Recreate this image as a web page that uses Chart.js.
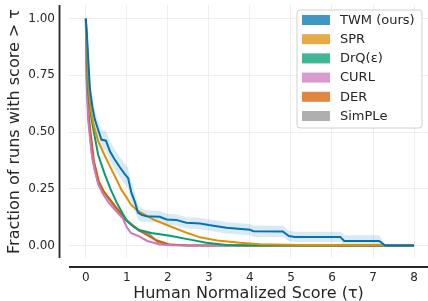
<!DOCTYPE html>
<html>
<head>
<meta charset="utf-8">
<script src="https://cdn.jsdelivr.net/npm/chart.js@4.4.1/dist/chart.umd.min.js"></script>
<style>
  html, body { margin: 0; padding: 0; background: #fff; }
  #wrap { width: 428px; height: 301px; }
</style>
</head>
<body>
<div id="wrap"><canvas id="chart" width="428" height="301"></canvas></div>
<script>
// tick labels
var xTicks = [0, 1, 2, 3, 4, 5, 6, 7, 8];
var yTicks = [0, 0.25, 0.5, 0.75, 1.0];

// TWM (ours)
var twmTau  = [0, 0.03, 0.06, 0.1, 0.16, 0.22, 0.3, 0.38, 0.49, 0.59, 0.7, 0.83, 0.95, 1.03, 1.11, 1.2, 1.27, 1.36, 1.48, 1.8, 1.97, 2.2, 2.45, 2.78, 3.0, 3.19, 3.43, 4.0, 4.08, 4.8, 4.95, 5.1, 6.2, 6.3, 7.15, 7.3, 8.0];
var twmFrac = [1.0, 0.92, 0.82, 0.69, 0.61, 0.555, 0.51, 0.467, 0.462, 0.414, 0.38, 0.345, 0.315, 0.298, 0.233, 0.19, 0.145, 0.135, 0.129, 0.127, 0.115, 0.113, 0.1, 0.097, 0.09, 0.085, 0.078, 0.07, 0.063, 0.062, 0.042, 0.038, 0.038, 0.02, 0.02, 0.0, 0.0];
var twmHigh = [1.0, 0.95, 0.86, 0.73, 0.65, 0.6, 0.55, 0.51, 0.505, 0.46, 0.425, 0.39, 0.36, 0.34, 0.28, 0.23, 0.18, 0.165, 0.155, 0.152, 0.14, 0.138, 0.125, 0.122, 0.115, 0.11, 0.103, 0.095, 0.088, 0.087, 0.065, 0.061, 0.061, 0.045, 0.045, 0.0, 0.0];
var twmLow  = [1.0, 0.89, 0.78, 0.65, 0.57, 0.51, 0.47, 0.425, 0.42, 0.37, 0.335, 0.3, 0.27, 0.255, 0.19, 0.15, 0.113, 0.105, 0.103, 0.102, 0.09, 0.088, 0.075, 0.072, 0.065, 0.06, 0.053, 0.045, 0.038, 0.037, 0.02, 0.016, 0.016, 0.0, 0.0, 0.0, 0.0];

// SPR
var sprTau  = [0, 0.03, 0.07, 0.12, 0.18, 0.3, 0.45, 0.56, 0.75, 0.87, 1.0, 1.1, 1.25, 1.4, 1.64, 2.05, 2.46, 2.78, 3.2, 3.76, 4.24, 5.2, 7.2, 7.3, 8.0];
var sprFrac = [1.0, 0.88, 0.69, 0.6, 0.54, 0.46, 0.4, 0.36, 0.29, 0.245, 0.21, 0.18, 0.155, 0.14, 0.115, 0.085, 0.056, 0.036, 0.022, 0.012, 0.006, 0.002, 0.002, 0.0, 0.0];

// DrQ(eps)
var drqTau  = [0, 0.02, 0.05, 0.14, 0.3, 0.45, 0.6, 0.75, 0.9, 1.0, 1.15, 1.3, 1.6, 2.05, 2.54, 2.94, 3.43, 4.0, 8.0];
var drqFrac = [1.0, 0.9, 0.69, 0.555, 0.4, 0.32, 0.25, 0.19, 0.14, 0.11, 0.085, 0.068, 0.055, 0.043, 0.026, 0.012, 0.002, 0.0, 0.0];

// CURL
var curlTau  = [0, 0.024, 0.056, 0.14, 0.22, 0.3, 0.41, 0.55, 0.75, 0.9, 1.0, 1.1, 1.3, 1.5, 1.8, 2.1, 2.5, 8.0];
var curlFrac = [0.98, 0.69, 0.555, 0.41, 0.33, 0.27, 0.23, 0.19, 0.15, 0.12, 0.08, 0.055, 0.04, 0.02, 0.005, 0.001, 0.0, 0.0];

// DER
var derTau  = [0, 0.03, 0.08, 0.2, 0.32, 0.45, 0.73, 0.97, 1.3, 1.72, 2.05, 2.5, 8.0];
var derFrac = [1.0, 0.69, 0.555, 0.37, 0.28, 0.235, 0.17, 0.115, 0.066, 0.023, 0.004, 0.0, 0.0];

// SimPLe
var simTau  = [0, 0.03, 0.07, 0.16, 0.28, 0.42, 0.7, 0.95, 1.3, 1.55, 1.75, 2.0, 2.5, 8.0];
var simFrac = [1.0, 0.69, 0.555, 0.38, 0.29, 0.24, 0.17, 0.115, 0.065, 0.05, 0.015, 0.003, 0.0, 0.0];

var seriesNames  = ['TWM (ours)', 'SPR', 'DrQ(\u03b5)', 'CURL', 'DER', 'SimPLe'];
var seriesColors = ['#0173b2', '#de8f05', '#029e73', '#cc78bc', '#d55e00', '#949494'];
var legendColors = ['#4096c5', '#e6ab44', '#41b696', '#d99acd', '#e08640', '#afafaf'];

var FONT = "'DejaVu Sans', sans-serif";
var INK = '#262626';

function pts(xs, ys) {
  return xs.map(function(x, i) { return {x: x, y: ys[i]}; });
}

function line(i, xs, ys) {
  return {
    label: seriesNames[i],
    data: pts(xs, ys),
    borderColor: seriesColors[i],
    borderWidth: 2,
    pointRadius: 0,
    tension: 0,
    fill: false
  };
}

// offset spines like seaborn despine(offset=...)
var spines = {
  id: 'spines',
  afterDraw: function(chart) {
    var a = chart.chartArea, c = chart.ctx;
    c.save();
    c.strokeStyle = INK;
    c.lineWidth = 1.8;
    c.beginPath();
    c.moveTo(59.5, a.top);
    c.lineTo(59.5, a.bottom);
    c.moveTo(a.left, a.bottom + 9);
    c.lineTo(a.right, a.bottom + 9);
    c.stroke();
    c.restore();
  }
};

// framed legend in the upper right of the plot
var boxLegend = {
  id: 'boxLegend',
  afterDraw: function(chart) {
    var c = chart.ctx;
    var x0 = 297, y0 = 10, w = 125, h = 118, r = 3;
    c.save();
    c.beginPath();
    c.moveTo(x0 + r, y0);
    c.arcTo(x0 + w, y0, x0 + w, y0 + h, r);
    c.arcTo(x0 + w, y0 + h, x0, y0 + h, r);
    c.arcTo(x0, y0 + h, x0, y0, r);
    c.arcTo(x0, y0, x0 + w, y0, r);
    c.closePath();
    c.fillStyle = 'rgba(255,255,255,0.85)';
    c.fill();
    c.strokeStyle = '#d0d0d0';
    c.lineWidth = 1;
    c.stroke();
    c.font = '13px ' + FONT;
    c.textBaseline = 'middle';
    c.textAlign = 'left';
    seriesNames.forEach(function(name, i) {
      var cy = 20 + i * 19.2;
      c.fillStyle = legendColors[i];
      c.fillRect(302, cy - 5, 28, 10);
      c.fillStyle = INK;
      c.fillText(name, 340, cy + 0.5);
    });
    c.restore();
  }
};

document.addEventListener('DOMContentLoaded', function() {
  var ctx = document.getElementById('chart').getContext('2d');
  new Chart(ctx, {
    type: 'line',
    data: {
      datasets: [
        line(0, twmTau, twmFrac),
        line(1, sprTau, sprFrac),
        line(2, drqTau, drqFrac),
        line(3, curlTau, curlFrac),
        line(4, derTau, derFrac),
        line(5, simTau, simFrac),
        // confidence band for TWM
        { data: pts(twmTau, twmHigh), borderWidth: 0, pointRadius: 0, tension: 0,
          backgroundColor: 'rgba(1,115,178,0.15)', fill: '+1' },
        { data: pts(twmTau, twmLow), borderWidth: 0, pointRadius: 0, tension: 0, fill: false }
      ]
    },
    options: {
      responsive: false,
      animation: false,
      layout: { padding: { top: 5, right: 0, left: 0, bottom: 0 } },
      plugins: {
        legend: { display: false },
        tooltip: { enabled: false }
      },
      scales: {
        x: {
          type: 'linear',
          min: -0.41,
          max: 8.34,
          afterBuildTicks: function(s) { s.ticks = xTicks.map(function(v) { return {value: v}; }); },
          afterFit: function(s) { s.height = 43; s.paddingLeft = 0; s.paddingRight = 0; },
          grid: { color: '#eeeeee', drawTicks: false },
          border: { display: false },
          ticks: {
            font: { family: FONT, size: 12 },
            color: INK,
            padding: 13,
            maxRotation: 0,
            callback: function(v) { return String(v); }
          },
          title: {
            display: true,
            text: 'Human Normalized Score (\u03c4)',
            font: { family: FONT, size: 16 },
            color: INK,
            padding: { top: 0, bottom: -2 }
          }
        },
        y: {
          min: -0.055,
          max: 1.06,
          afterBuildTicks: function(s) { s.ticks = yTicks.map(function(v) { return {value: v}; }); },
          afterFit: function(s) { s.width = 69; s.paddingTop = 0; s.paddingBottom = 0; },
          grid: { color: '#eeeeee', drawTicks: false },
          border: { display: false },
          ticks: {
            font: { family: FONT, size: 12 },
            color: INK,
            padding: 14,
            callback: function(v) { return v.toFixed(2); }
          },
          title: {
            display: true,
            text: 'Fraction of runs with score > \u03c4',
            font: { family: FONT, size: 16 },
            color: INK,
            padding: { top: 5, bottom: 0 }
          }
        }
      }
    },
    plugins: [spines, boxLegend]
  });
});
</script>
</body>
</html>
